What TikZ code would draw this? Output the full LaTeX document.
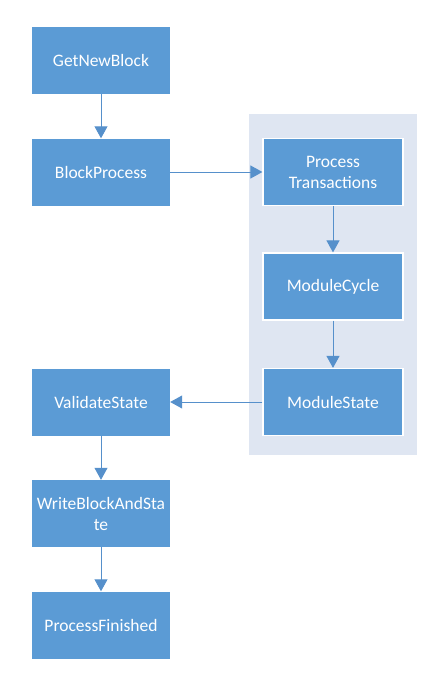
\documentclass[tikz,border=0pt]{standalone}
\usepackage{fontspec}
\setmainfont{Carlito}
\usepackage{xcolor}
\usetikzlibrary{arrows.meta}
\definecolor{boxblue}{HTML}{5B9BD5}
\definecolor{groupbg}{HTML}{DFE6F2}
\definecolor{lineblue}{HTML}{5690CB}
\tikzset{
    stage/.style={fill=boxblue,
        text=white,
        align=center,
        inner sep=0pt,
        minimum width=138pt,
        minimum height=67pt,
        font=\fontsize{17.5}{21}\selectfont},
    substage/.style={stage,
        draw=white,
        line width=1.2pt,
        minimum width=140pt},
    flow/.style={draw=lineblue,
        line width=1pt,
        -{Triangle[width=13pt,length=12pt]}}
}
\begin{document}
\begin{tikzpicture}[x=1pt,y=-1pt]
                \useasboundingbox (0,0) rectangle (439,677);
                % Group background
                \fill [groupbg] (249,114) rectangle (417,455);
                % Main column
                \node [stage] (get) at (101,60.5) {GetNewBlock};
                \node [stage] (block) at (101,172) {BlockProcess};
                \node [stage] (validate) at (101,402) {ValidateState};
                \node [stage] (write) at (101,513.5) {WriteBlockAndSta\\te};
                \node [stage] (finish) at (101,625) {ProcessFinished};
                % Inner column
                \node [substage] (trans) at (333,172) {Process\\Transactions};
                \node [substage] (cycle) at (333,286.5) {ModuleCycle};
                \node [substage] (mstate) at (333,402) {ModuleState};
                % Connectors
                \draw [flow] (get) -- (block);
                \draw [flow] (block) -- (trans);
                \draw [flow] (trans) -- (cycle);
                \draw [flow] (cycle) -- (mstate);
                \draw [flow] (mstate) -- (validate);
                \draw [flow] (validate) -- (write);
                \draw [flow] (write) -- (finish);
            \end{tikzpicture}
\end{document}
